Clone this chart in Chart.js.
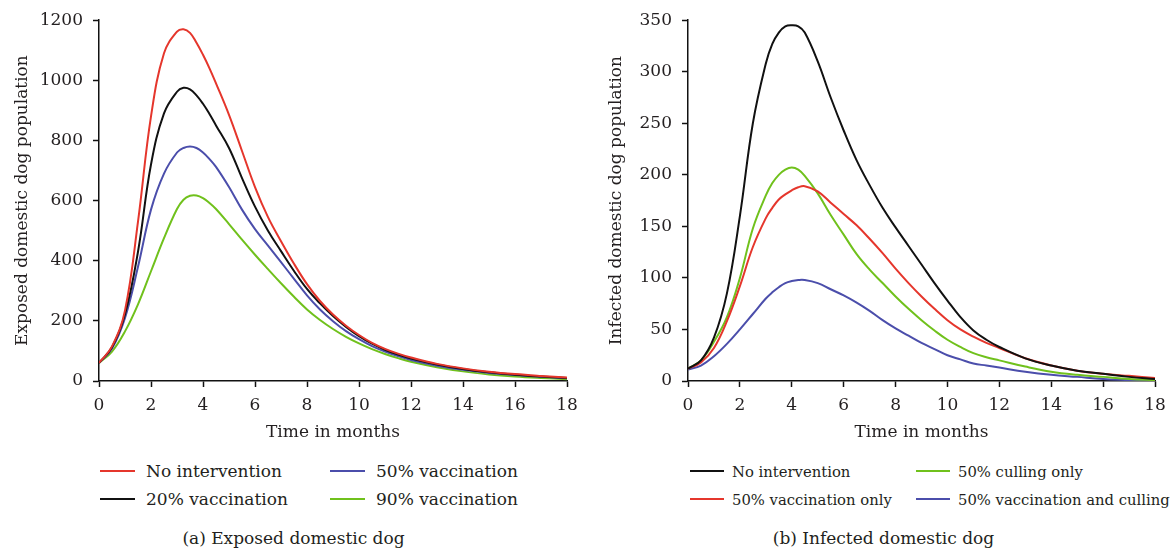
<!DOCTYPE html>
<html>
<head>
<meta charset="utf-8">
<script src="https://cdn.jsdelivr.net/npm/chart.js@4/dist/chart.umd.min.js"></script>
<style>
  body { margin: 0; background: #fff; width: 1174px; height: 554px; position: relative; overflow: hidden; font-family: 'DejaVu Serif', serif; color: #231f20; }
  canvas { position: absolute; top: 0; }
  .legend { position: absolute; top: 457px; display: grid; grid-template-rows: 28px 28px; grid-auto-flow: column; }
  .item { display: flex; align-items: center; white-space: nowrap; }
  .item span.line { display: inline-block; height: 2px; }
  .caption { position: absolute; top: 528px; font-size: 17px; text-align: center; width: 587px; }
</style>
</head>
<body>
<canvas id="exposed" width="587" height="450" style="left:0"></canvas>
<canvas id="infected" width="587" height="450" style="left:587px"></canvas>
<div class="legend" id="legendA" style="left:100px; grid-template-columns: 230px 250px; font-size:17px"></div>
<div class="legend" id="legendB" style="left:690px; grid-template-columns: 226px 260px; font-size:14.8px"></div>
<div class="caption" style="left:0">(a) Exposed domestic dog</div>
<div class="caption" style="left:590px">(b) Infected domestic dog</div>
<script>
const months = [0, 0.5, 1, 1.5, 2, 2.5, 3, 3.25, 3.5, 3.75, 4, 4.25, 4.5, 5, 5.5, 6, 6.5, 7, 7.5, 8, 8.5, 9, 9.5, 10, 10.5, 11, 11.5, 12, 13, 14, 15, 16, 17, 18];

// (a) exposed domestic dogs
const exposedNone  = [60, 115, 235, 530, 880, 1090, 1162, 1170, 1158, 1125, 1085, 1040, 990, 885, 765, 645, 545, 465, 390, 322, 266, 221, 184, 153, 127, 107, 91, 78, 57, 42, 31, 23, 17, 12];
const exposedVac20 = [60, 112, 222, 430, 720, 890, 962, 975, 970, 950, 922, 888, 850, 775, 675, 580, 500, 432, 366, 306, 258, 216, 180, 149, 124, 104, 88, 75, 55, 40, 29, 21, 15, 10];
const exposedVac50 = [60, 108, 210, 380, 570, 690, 760, 775, 780, 775, 760, 738, 712, 645, 570, 505, 450, 395, 340, 285, 238, 199, 166, 139, 116, 98, 83, 70, 51, 37, 27, 20, 14, 9];
const exposedVac90 = [60, 98, 165, 255, 365, 475, 572, 603, 616, 617, 608, 592, 572, 522, 470, 420, 372, 325, 280, 238, 203, 173, 147, 125, 106, 90, 76, 64, 46, 32, 22, 15, 10, 6];

// (b) infected domestic dogs
const infectedNone      = [12, 20, 42, 85, 160, 250, 308, 327, 338, 344, 345, 344, 338, 310, 275, 243, 214, 190, 168, 149, 131, 113, 95, 78, 62, 49, 40, 33, 22, 15, 10, 7, 4, 2];
const infectedVac50     = [12, 18, 32, 58, 92, 130, 158, 168, 176, 181, 185, 188, 189, 184, 173, 162, 151, 138, 124, 109, 95, 82, 70, 59, 50, 43, 37, 32, 22, 15, 10, 7, 5, 3];
const infectedCull50    = [12, 20, 38, 62, 100, 148, 180, 192, 200, 205, 207, 205, 199, 182, 161, 142, 123, 108, 95, 82, 70, 59, 49, 40, 33, 27, 23, 20, 14, 9, 6, 4, 2, 1];
const infectedVacCull50 = [11, 15, 24, 36, 50, 65, 80, 86, 91, 95, 97, 98, 98, 95, 89, 83, 76, 68, 59, 51, 44, 37, 31, 25, 21, 17, 15, 13, 9, 6, 4, 2, 1, 0];

const RED = '#e5362c', BLACK = '#111111', BLUE = '#4b4eab', GREEN = '#70c11c';
const TEXT = '#231f20';

const exposedSeries = [
  { label: 'No intervention', values: exposedNone, color: RED },
  { label: '20% vaccination', values: exposedVac20, color: BLACK },
  { label: '50% vaccination', values: exposedVac50, color: BLUE },
  { label: '90% vaccination', values: exposedVac90, color: GREEN }
];
const infectedSeries = [
  { label: 'No intervention', values: infectedNone, color: BLACK },
  { label: '50% vaccination only', values: infectedVac50, color: RED },
  { label: '50% culling only', values: infectedCull50, color: GREEN },
  { label: '50% vaccination and culling', values: infectedVacCull50, color: BLUE }
];

Chart.defaults.font.family = "'DejaVu Serif', serif";
Chart.defaults.font.size = 17;
Chart.defaults.color = TEXT;

function makeChart(id, series, yMax, yStep, yTitle, yWidth, titlePad, padRight) {
  return new Chart(document.getElementById(id), {
    type: 'line',
    data: {
      datasets: series.map(s => ({
        label: s.label,
        data: months.map((m, i) => ({ x: m, y: s.values[i] })),
        borderColor: s.color,
        borderWidth: 2,
        pointRadius: 0,
        fill: false,
        tension: 0.4
      }))
    },
    options: {
      responsive: false,
      animation: false,
      layout: { padding: { top: 14, right: padRight, bottom: 0, left: 0 } },
      plugins: { legend: { display: false }, tooltip: { enabled: false } },
      scales: {
        x: {
          type: 'linear', min: 0, max: 18,
          ticks: { stepSize: 2, padding: 8, maxRotation: 0, color: TEXT },
          grid: { drawOnChartArea: false, tickLength: 6, tickColor: BLACK, tickWidth: 1.5 },
          border: { color: BLACK, width: 1.5 },
          title: { display: true, text: 'Time in months', color: TEXT, padding: { top: 0, bottom: 7 } },
          afterFit: s => { s.height = 69 }
        },
        y: {
          min: 0, max: yMax,
          ticks: { stepSize: yStep, padding: 10, color: TEXT, callback: v => String(v) },
          grid: { drawOnChartArea: false, tickLength: 6, tickColor: BLACK, tickWidth: 1.5 },
          border: { color: BLACK, width: 1.5 },
          title: { display: true, text: yTitle, color: TEXT, padding: { top: titlePad, bottom: 0 } },
          afterFit: s => { s.width = yWidth }
        }
      }
    }
  });
}

makeChart('exposed', exposedSeries, 1200, 200, 'Exposed domestic dog population', 99, 12, 20);
makeChart('infected', infectedSeries, 350, 50, 'Infected domestic dog population', 101, 19, 19);

function buildLegend(elId, series, lineW, gap) {
  const el = document.getElementById(elId);
  series.forEach(s => {
    const item = document.createElement('div');
    item.className = 'item';
    item.innerHTML = '<span class="line" style="width:' + lineW + 'px;background:' + s.color + ';margin-right:' + gap + 'px"></span>' + s.label;
    el.appendChild(item);
  });
}
buildLegend('legendA', exposedSeries, 35, 11);
buildLegend('legendB', infectedSeries, 34, 8);
</script>
</body>
</html>
